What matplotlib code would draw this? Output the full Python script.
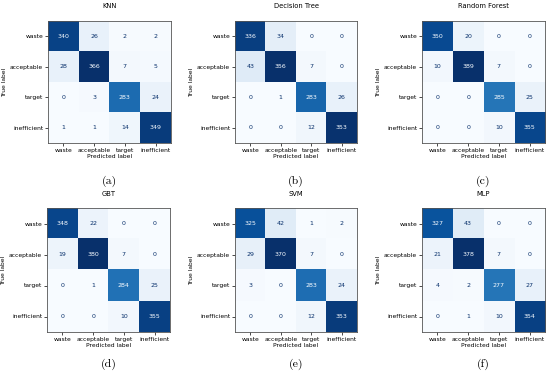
import numpy as np
import matplotlib
matplotlib.use("Agg")
import matplotlib.pyplot as plt

labels = ["waste", "acceptable", "target", "inefficient"]
titles = ["KNN", "Decision Tree", "Random Forest", "GBT", "SVM", "MLP"]
captions = ["(a)", "(b)", "(c)", "(d)", "(e)", "(f)"]

knn = [[340, 26, 2, 2], [28, 366, 7, 5], [0, 3, 283, 24], [1, 1, 14, 349]]
dtree = [[336, 34, 0, 0], [43, 356, 7, 0], [0, 1, 283, 26], [0, 0, 12, 353]]
rforest = [[350, 20, 0, 0], [10, 389, 7, 0], [0, 0, 285, 25], [0, 0, 10, 355]]
gbt = [[348, 22, 0, 0], [19, 380, 7, 0], [0, 1, 284, 25], [0, 0, 10, 355]]
svm = [[325, 42, 1, 2], [29, 370, 7, 0], [3, 0, 283, 24], [0, 0, 12, 353]]
mlp = [[327, 43, 0, 0], [21, 378, 7, 0], [4, 2, 277, 27], [0, 1, 10, 354]]
matrices = [knn, dtree, rforest, gbt, svm, mlp]

W, H = 550, 380
fig = plt.figure(figsize=(W / 100, H / 100), dpi=100)
fig.patch.set_facecolor("white")

# axes boxes in pixels: (left, top, width, height)
boxes = [(48, 21, 123, 122), (235, 21, 122, 122), (422, 21, 123, 122),
         (47, 208, 123, 124), (235, 208, 122, 124), (422, 208, 123, 124)]
cap_y = [181, 181, 181, 364, 364, 364]

fs = 4.3
cmap = plt.get_cmap("Blues")
for i, (m, t, c) in enumerate(zip(matrices, titles, captions)):
    l, tp, w, h = boxes[i]
    ax = fig.add_axes([l / W, 1 - (tp + h) / H, w / W, h / H])
    arr = np.array(m)
    ax.imshow(arr, cmap=cmap, aspect="auto", interpolation="nearest")
    thr = (arr.max() + arr.min()) / 2
    for r in range(4):
        for col in range(4):
            v = arr[r, col]
            color = cmap(0.0) if v > thr else cmap(1.0)
            ax.text(col, r, str(v), ha="center", va="center", fontsize=4.5, color=color)
    ax.set_xticks(range(4))
    ax.set_yticks(range(4))
    ax.set_xticklabels(labels, fontsize=fs)
    ax.set_yticklabels(labels, fontsize=fs)
    ax.tick_params(length=2, width=0.5, pad=1.5)
    ax.set_xlabel("Predicted label", fontsize=fs, labelpad=0.8)
    ax.set_ylabel("True label", fontsize=fs, labelpad=2)
    ax.set_title(t, fontsize=4.9, pad=9)
    for s in ax.spines.values():
        s.set_linewidth(0.6)
        s.set_color("#555555")
    cx = (l + w / 2) / W
    fig.text(cx, 1 - cap_y[i] / H, c, ha="center", va="center",
             fontsize=8.5, family="cmr10")

fig.savefig("out.png", dpi=100)
